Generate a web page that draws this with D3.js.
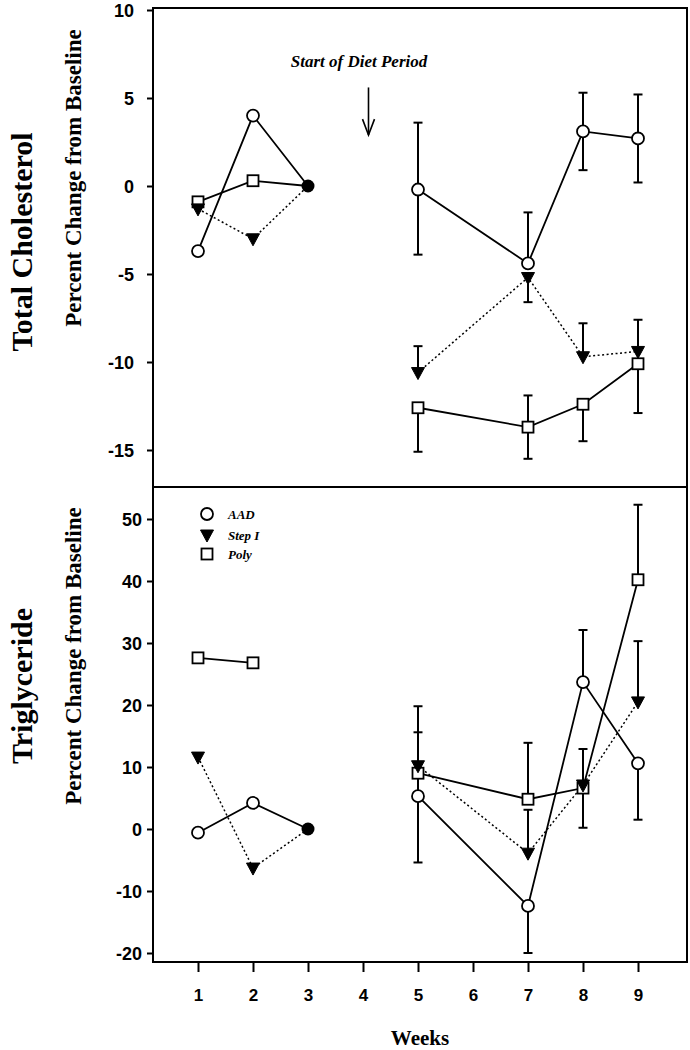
<!DOCTYPE html>
<html>
<head>
<meta charset="utf-8">
<script src="https://cdn.jsdelivr.net/npm/d3@7"></script>
<style>
  html, body { margin: 0; padding: 0; background: #fff; }
  svg { display: block; }
</style>
</head>
<body>
<svg id="chart" width="690" height="1050"></svg>
<script>
// ---------------- DATA ----------------
const preWeeks = [1, 2, 3];
const postWeeks = [5, 7, 8, 9];
const xTicks = [1, 2, 3, 4, 5, 6, 7, 8, 9];
const seriesNames = ["AAD", "Step I", "Poly"];

// Total Cholesterol (% change from baseline)
const tcAADPre = [-3.7, 4.0, 0];
const tcStepPre = [-1.3, -3.0, 0];
const tcPolyPre = [-0.9, 0.3, 0];
const tcAADPost = [-0.2, -4.4, 3.1, 2.7];
const tcStepPost = [-10.6, -5.2, -9.7, -9.4];
const tcPolyPost = [-12.6, -13.7, -12.4, -10.1];
const tcAADErrUp = [3.8, 2.9, 2.2, 2.5];
const tcAADErrDown = [3.7, 0, 2.2, 2.5];
const tcStepErrUp = [1.5, 0, 1.9, 1.8];
const tcStepErrDown = [0, 1.4, 0, 0];
const tcPolyErrUp = [0, 1.8, 0, 0];
const tcPolyErrDown = [2.5, 1.8, 2.1, 2.8];
const tcTicks = [10, 5, 0, -5, -10, -15];

// Triglyceride (% change from baseline)
const tgAADPre = [-0.6, 4.2, 0];
const tgStepPre = [11.6, -6.3, 0];
const tgPolyPre = [27.6, 26.8, null];
const tgAADPost = [5.3, -12.4, 23.7, 10.6];
const tgStepPost = [10.2, -3.9, 7.1, 20.5];
const tgPolyPost = [9.0, 4.8, 6.6, 40.2];
const tgAADErrUp = [10.3, 0, 8.4, 0];
const tgAADErrDown = [10.7, 7.6, 0, 9.1];
const tgStepErrUp = [9.6, 7.0, 5.8, 9.8];
const tgStepErrDown = [0, 0, 0, 0];
const tgPolyErrUp = [0, 9.1, 0, 12.1];
const tgPolyErrDown = [0, 0, 6.4, 0];
const tgTicks = [50, 40, 30, 20, 10, 0, -10, -20];

const baselineWeek = 3;
const baselineValue = 0;

// ---------------- LAYOUT ----------------
const svg = d3.select("#chart");
const frameL = 153, frameR = 687;
const x = d3.scaleLinear().domain([1, 9]).range([198, 638]);

const panels = [
  {
    top: 8, bottom: 487,
    y: d3.scaleLinear().domain([10, -15]).range([10, 450]),
    ticks: tcTicks, labelX: 134,
    title: "Total Cholesterol", titleY: 242, subY: 178,
    pre: [tcAADPre, tcStepPre, tcPolyPre],
    post: [tcAADPost, tcStepPost, tcPolyPost],
    errUp: [tcAADErrUp, tcStepErrUp, tcPolyErrUp],
    errDown: [tcAADErrDown, tcStepErrDown, tcPolyErrDown]
  },
  {
    top: 487, bottom: 962,
    y: d3.scaleLinear().domain([50, -20]).range([519, 953]),
    ticks: tgTicks, labelX: 142,
    title: "Triglyceride", titleY: 686, subY: 656,
    pre: [tgAADPre, tgStepPre, tgPolyPre],
    post: [tgAADPost, tgStepPost, tgPolyPost],
    errUp: [tgAADErrUp, tgStepErrUp, tgPolyErrUp],
    errDown: [tgAADErrDown, tgStepErrDown, tgPolyErrDown]
  }
];

const serif = "'Liberation Serif', 'Times New Roman', serif";
const sans = "'Liberation Sans', Arial, sans-serif";

// frame
svg.append("rect")
  .attr("x", frameL).attr("y", panels[0].top)
  .attr("width", frameR - frameL).attr("height", panels[1].bottom - panels[0].top)
  .attr("fill", "none").attr("stroke", "#000").attr("stroke-width", 2);
svg.append("line")
  .attr("x1", frameL).attr("x2", frameR)
  .attr("y1", panels[0].bottom).attr("y2", panels[0].bottom)
  .attr("stroke", "#000").attr("stroke-width", 2);

// symbols
function drawMarker(g, type, cx, cy) {
  if (type === 0) {
    g.append("circle").attr("cx", cx).attr("cy", cy).attr("r", 6)
      .attr("fill", "#fff").attr("stroke", "#000").attr("stroke-width", 1.8);
  } else if (type === 1) {
    g.append("path")
      .attr("d", `M${cx - 6.5},${cy - 5} L${cx + 6.5},${cy - 5} L${cx},${cy + 7} Z`)
      .attr("fill", "#000").attr("stroke", "#000").attr("stroke-width", 1);
  } else {
    g.append("rect").attr("x", cx - 5.5).attr("y", cy - 5.5)
      .attr("width", 11).attr("height", 11)
      .attr("fill", "#fff").attr("stroke", "#000").attr("stroke-width", 1.8);
  }
}

const lineStyles = [
  { dash: null, width: 1.8 },
  { dash: "2,2.5", width: 1.5 },
  { dash: null, width: 1.8 }
];

const fmt = d => String(d); // plain hyphen minus as in the original

panels.forEach((p, pi) => {
  const g = svg.append("g");
  const y = p.y;

  // y axis
  const yAxis = d3.axisLeft(y).tickValues(p.ticks).tickSize(6).tickPadding(0).tickFormat(fmt);
  const ya = g.append("g").attr("transform", `translate(${frameL},0)`).call(yAxis);
  ya.select(".domain").remove();
  ya.selectAll(".tick line").attr("stroke-width", 2);
  ya.selectAll(".tick text")
    .attr("x", p.labelX - frameL)
    .attr("dy", "0.36em")
    .attr("font-family", sans).attr("font-weight", "bold").attr("font-size", 18)
    .attr("fill", "#000");

  // titles
  g.append("text")
    .attr("transform", `translate(32,${p.titleY}) rotate(-90)`)
    .attr("text-anchor", "middle")
    .attr("font-family", serif).attr("font-size", 30).attr("font-weight", "bold")
    .text(p.title);
  g.append("text")
    .attr("transform", `translate(81,${p.subY}) rotate(-90)`)
    .attr("text-anchor", "middle")
    .attr("font-family", serif).attr("font-size", 23).attr("font-weight", "bold")
    .text("Percent Change from Baseline");

  // lines
  [0, 1, 2].forEach(si => {
    const st = lineStyles[si];
    const line = d3.line().defined(d => d.v !== null).x(d => x(d.w)).y(d => y(d.v));
    const preData = preWeeks.map((w, i) => ({ w, v: p.pre[si][i] }));
    const postData = postWeeks.map((w, i) => ({ w, v: p.post[si][i] }));
    [preData, postData].forEach(dat => {
      g.append("path").attr("d", line(dat))
        .attr("fill", "none").attr("stroke", "#000")
        .attr("stroke-width", st.width)
        .attr("stroke-dasharray", st.dash);
    });
  });

  // error bars
  [0, 1, 2].forEach(si => {
    postWeeks.forEach((w, i) => {
      const v = p.post[si][i];
      const up = p.errUp[si][i], dn = p.errDown[si][i];
      const cx = x(w);
      [[up, 1], [dn, -1]].forEach(([e, s]) => {
        if (!e) return;
        const yEnd = y(v + s * e);
        g.append("line").attr("x1", cx).attr("x2", cx)
          .attr("y1", y(v)).attr("y2", yEnd)
          .attr("stroke", "#000").attr("stroke-width", 2);
        g.append("line").attr("x1", cx - 4.5).attr("x2", cx + 4.5)
          .attr("y1", yEnd).attr("y2", yEnd)
          .attr("stroke", "#000").attr("stroke-width", 2);
      });
    });
  });

  // markers
  [2, 1, 0].forEach(si => {
    preWeeks.forEach((w, i) => {
      const v = p.pre[si][i];
      if (v === null || w === baselineWeek) return;
      drawMarker(g, si, x(w), y(v));
    });
    postWeeks.forEach((w, i) => {
      drawMarker(g, si, x(w), y(p.post[si][i]));
    });
  });
  // baseline filled point
  g.append("circle").attr("cx", x(baselineWeek)).attr("cy", y(baselineValue)).attr("r", 6.5)
    .attr("fill", "#000");
});

// x axis
const xAxis = d3.axisBottom(x).tickValues(xTicks).tickSize(10).tickPadding(17).tickFormat(fmt);
const xa = svg.append("g").attr("transform", `translate(0,${panels[1].bottom})`).call(xAxis);
xa.select(".domain").remove();
xa.selectAll(".tick line").attr("stroke-width", 2);
xa.selectAll(".tick text")
  .attr("font-family", sans).attr("font-weight", "bold").attr("font-size", 17)
  .attr("fill", "#000");

svg.append("text")
  .attr("x", (frameL + frameR) / 2).attr("y", 1045)
  .attr("text-anchor", "middle")
  .attr("font-family", serif).attr("font-weight", "bold").attr("font-size", 21)
  .text("Weeks");

// annotation: start of diet period
const yTop = panels[0].y;
svg.append("text")
  .attr("x", 359).attr("y", 67)
  .attr("text-anchor", "middle")
  .attr("font-family", serif).attr("font-weight", "bold").attr("font-style", "italic")
  .attr("font-size", 17)
  .text("Start of Diet Period");
const ax = x(4.1);
svg.append("line").attr("x1", ax).attr("x2", ax)
  .attr("y1", yTop(5.6)).attr("y2", yTop(2.9))
  .attr("stroke", "#000").attr("stroke-width", 1.6);
svg.append("path")
  .attr("d", `M${ax - 6},${yTop(3.8)} L${ax},${yTop(2.9)} L${ax + 6},${yTop(3.8)}`)
  .attr("fill", "none").attr("stroke", "#000").attr("stroke-width", 1.6);

// legend
const legY = [514, 535, 554];
seriesNames.forEach((name, i) => {
  drawMarker(svg, i, 207, legY[i]);
  svg.append("text")
    .attr("x", 228).attr("y", legY[i]).attr("dy", "0.35em")
    .attr("font-family", serif).attr("font-weight", "bold").attr("font-style", "italic")
    .attr("font-size", 13)
    .text(name);
});
</script>
</body>
</html>
